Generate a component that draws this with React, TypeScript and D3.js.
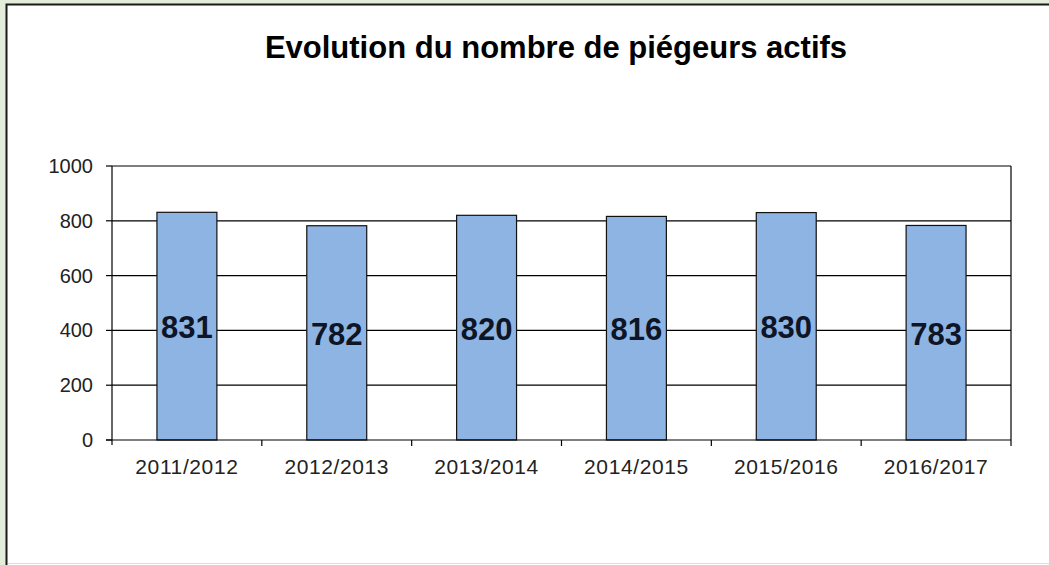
import React from "react";
import * as d3 from "d3";

const categories = ["2011/2012", "2012/2013", "2013/2014", "2014/2015", "2015/2016", "2016/2017"];
const values = [831, 782, 820, 816, 830, 783];
const yTicks = [0, 200, 400, 600, 800, 1000];
const title = "Evolution du nombre de piégeurs actifs";

const W = 1049;
const H = 565;
const left = 112;
const right = 1011;
const top = 166;
const bottom = 440;

export default function App() {
  const x = d3.scaleBand<string>().domain(categories).range([left, right]).paddingInner(0.6).paddingOuter(0.3);
  const y = d3.scaleLinear().domain([0, 1000]).range([bottom, top]);
  const step = x.step();
  const font = "'Liberation Sans', Arial, sans-serif";
  return (
    <svg width={W} height={H} style={{ position: "absolute", left: 0, top: 0 }} xmlns="http://www.w3.org/2000/svg">
      <rect x={0} y={0} width={W} height={H} fill="#e3edd9" />
      <rect x={6.5} y={4.5} width={W + 10} height={H + 10} fill="#ffffff" stroke="#1a1a1a" strokeWidth={2} />
      <line x1={8} x2={W} y1={563.5} y2={563.5} stroke="#dddddd" strokeWidth={1} />
      <text x={556} y={58} textAnchor="middle" fontFamily={font} fontWeight="bold" fontSize={31} fill="#000">
        {title}
      </text>
      {yTicks.map((t) => (
        <g key={t}>
          {t > 0 && <line x1={left} x2={right} y1={y(t)} y2={y(t)} stroke="#000" strokeWidth={1.2} />}
          <line x1={left - 6} x2={left} y1={y(t)} y2={y(t)} stroke="#000" strokeWidth={1.2} />
          <text x={left - 19} y={y(t) + 7} textAnchor="end" fontFamily={font} fontSize={20} fill="#222">
            {t}
          </text>
        </g>
      ))}
      <line x1={right} x2={right} y1={top} y2={bottom} stroke="#000" strokeWidth={1.2} />
      {values.map((v, i) => {
        const c = categories[i];
        const bx = x(c)!;
        return (
          <g key={c}>
            <rect x={bx} y={y(v)} width={x.bandwidth()} height={bottom - y(v)} fill="#8db4e2" stroke="#111" strokeWidth={1.2} />
            <text
              x={bx + x.bandwidth() / 2}
              y={(y(v) + bottom) / 2 + 12}
              textAnchor="middle"
              fontFamily={font}
              fontWeight="bold"
              fontSize={31}
              fill="#0d1526"
            >
              {v}
            </text>
          </g>
        );
      })}
      <line x1={left} x2={left} y1={top} y2={bottom + 5} stroke="#000" strokeWidth={1.2} />
      <line x1={left - 6} x2={right} y1={bottom} y2={bottom} stroke="#000" strokeWidth={1.2} />
      {categories.map((c, i) => (
        <line key={"t" + i} x1={left + step * (i + 1)} x2={left + step * (i + 1)} y1={bottom} y2={bottom + 6} stroke="#000" strokeWidth={1.2} />
      ))}
      {categories.map((c) => (
        <text key={"l" + c} x={x(c)! + x.bandwidth() / 2} y={bottom + 34} textAnchor="middle" fontFamily={font} fontSize={21} letterSpacing={0.6} fill="#222">
          {c}
        </text>
      ))}
    </svg>
  );
}
